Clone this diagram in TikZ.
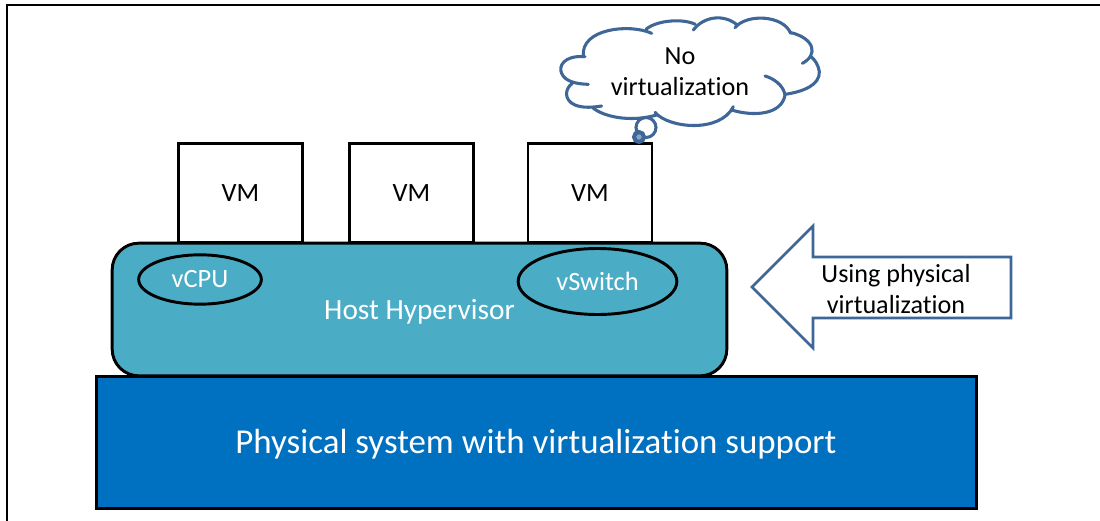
\documentclass[tikz,border=0pt]{standalone}
\usepackage{fontspec}
\setmainfont[Ligatures=NoCommon]{Carlito}
\usetikzlibrary{shapes.geometric}
\definecolor{physblue}{HTML}{0070C0}
\definecolor{hypteal}{HTML}{4BACC6}
\definecolor{shapeblue}{HTML}{3E6696}
\tikzset{
  x=0.75pt,y=-0.75pt,
  vmbox/.style={draw=black,line width=2.2pt,fill=white,minimum width=93pt,minimum height=74pt,inner sep=0pt,font=\fontsize{19.8}{22}\selectfont},
  oval/.style={ellipse,draw=black,line width=2.2pt,text=white,inner sep=0pt,font=\fontsize{19.8}{22}\selectfont},
  cloudline/.style={draw=shapeblue,line width=2.3pt,line cap=round},
  frameline/.style={draw=black,line width=1.1pt}
}
\begin{document}
\begin{tikzpicture}
\useasboundingbox (0,0) rectangle (1100,521);
\coordinate (ftl) at (7,5);
\coordinate (ftr) at (1100,5);
\coordinate (fbl) at (7,521);
\draw[frameline] (ftr) -- (ftl) -- (fbl);
\node[vmbox] (vm1) at (240.5,193) {VM};
\node[vmbox] (vm2) at (411.5,193) {VM};
\node[vmbox] (vm3) at (590,193) {VM};
\node[draw=black,line width=2.2pt,fill=physblue,minimum width=660pt,minimum height=99.5pt,inner sep=0pt] (phys) at (536.5,442.5) {};
\node[text=white,font=\fontsize{26.2}{30}\selectfont] (physlabel) at (536,444.5) {Physical system with virtualization support};
\node[draw=black,line width=2.2pt,fill=hypteal,rounded corners=20pt,minimum width=461pt,minimum height=99.5pt,inner sep=0pt] (hyp) at (419.5,309.5) {};
\node[text=white,font=\fontsize{22}{26}\selectfont] (hyplabel) at (419.5,311.5) {Host Hypervisor};
\node[oval,minimum width=92pt,minimum height=37pt] (vcpu) at (200,279.5) {vCPU};
\node[oval,minimum width=119pt,minimum height=49.5pt] (vswitch) at (597.5,281.5) {vSwitch};
\draw[draw=shapeblue,line width=1.9pt,fill=white,line join=miter]
  (752,287) -- (813,226) -- (813,257) -- (1011,257) -- (1011,318) -- (813,318) -- (813,348) -- cycle;
\node[align=center,font=\fontsize{19.6}{23}\selectfont] (arrowlabel) at (896,289) {Using physical\\virtualization};
\begin{scope}[shift={(540,0)},x=0.25pt,y=-0.25pt]
  \fill[white] (135,170) -- (130,110) -- (320,75) -- (470,60) -- (600,65) -- (750,95) -- (820,170) -- (835,220) -- (735,285) -- (640,345) -- (460,385) -- (290,360) -- (90,300) -- (65,200) -- cycle;
  \draw[cloudline] (135,170) .. controls (70,165) and (55,200) .. (65,220) .. controls (75,245) and (110,252) .. (145,253);
  \draw[cloudline] (97,250) .. controls (75,265) and (70,300) .. (105,315) .. controls (130,325) and (160,322) .. (185,318);
  \draw[cloudline] (158,323) .. controls (190,350) and (270,368) .. (350,345);
  \draw[cloudline] (345,337) .. controls (385,385) and (540,400) .. (580,320);
  \draw[cloudline] (575,330) .. controls (640,350) and (725,345) .. (735,285) .. controls (730,255) and (700,235) .. (675,228);
  \draw[cloudline] (735,283) .. controls (790,275) and (840,255) .. (838,215) .. controls (835,195) and (825,180) .. (815,172);
  \draw[cloudline] (787,190) .. controls (835,165) and (825,115) .. (750,97);
  \draw[cloudline] (752,100) .. controls (730,45) and (620,40) .. (585,83);
  \draw[cloudline] (592,75) .. controls (550,40) and (490,50) .. (460,90);
  \draw[cloudline] (466,73) .. controls (430,55) and (350,60) .. (318,88);
  \draw[cloudline] (335,100) .. controls (270,70) and (120,85) .. (130,170);
\end{scope}
\node[align=center,font=\fontsize{19.6}{23}\selectfont] (cloudlabel) at (680,72) {No\\virtualization};
\draw[draw=shapeblue,line width=2.3pt] (646,127.5) ellipse [x radius=10,y radius=10];
\draw[draw=shapeblue,line width=3pt,fill=shapeblue!60!white] (639,137) circle [radius=5];
\end{tikzpicture}
\end{document}
